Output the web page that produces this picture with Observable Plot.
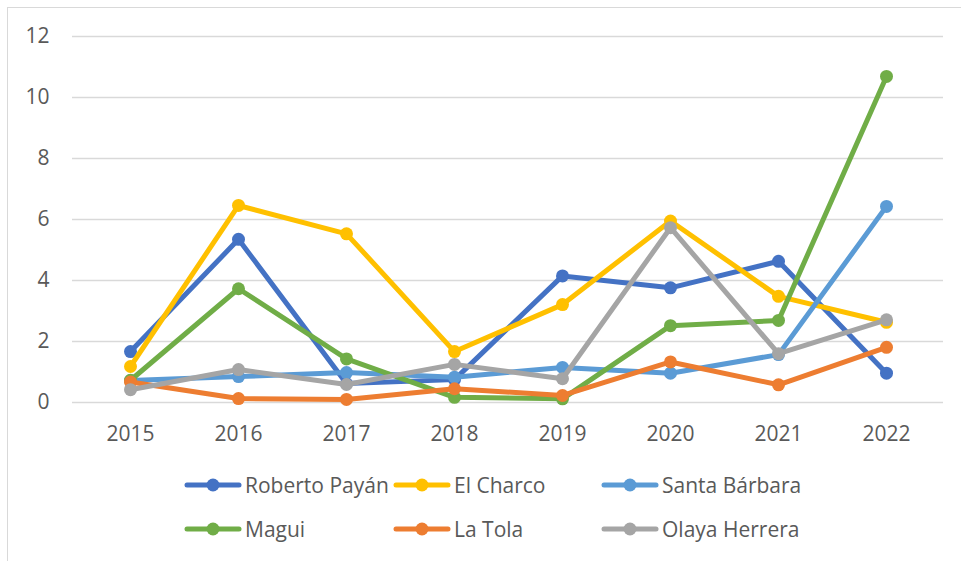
<!DOCTYPE html>
<html>
<head>
<meta charset="utf-8">
<script src="https://cdn.jsdelivr.net/npm/d3@7"></script>
<script src="https://cdn.jsdelivr.net/npm/@observablehq/plot@0.6"></script>
<style>
  html, body { margin: 0; padding: 0; background: #fff; }
  #wrap { position: relative; width: 961px; height: 561px; overflow: hidden; font-family: "Open Sans", sans-serif; }
  #frame { position: absolute; left: 7px; top: 7px; width: 1000px; height: 600px; border-left: 1.5px solid #d9d9d9; border-top: 1.5px solid #d9d9d9; }
  #chart { position: absolute; left: 0; top: 0; }
  #legend { position: absolute; left: 184px; top: 467px; display: grid; grid-template-columns: 209px 208px 208px; row-gap: 8px; }
  .item { display: flex; align-items: center; height: 36px; color: #595959; font-size: 21px; white-space: nowrap; }
  .item svg { margin-right: 3px; flex: none; }
</style>
</head>
<body>
<div id="wrap">
  <div id="frame"></div>
  <div id="chart"></div>
  <div id="legend"></div>
</div>
<script>
const years = [2015, 2016, 2017, 2018, 2019, 2020, 2021, 2022];
const seriesNames = ["Roberto Payán", "El Charco", "Santa Bárbara", "Magui", "La Tola", "Olaya Herrera"];
const seriesColors = ["#4472C4", "#FFC000", "#5B9BD5", "#70AD47", "#ED7D31", "#A5A5A5"];
const robertoPayan = [1.67, 5.35, 0.62, 0.75, 4.15, 3.76, 4.63, 0.96];
const elCharco     = [1.18, 6.46, 5.53, 1.67, 3.21, 5.95, 3.48, 2.63];
const santaBarbara = [0.72, 0.85, 0.98, 0.83, 1.15, 0.96, 1.57, 6.43];
const magui        = [0.73, 3.73, 1.43, 0.17, 0.12, 2.52, 2.69, 10.69];
const laTola       = [0.67, 0.13, 0.10, 0.45, 0.23, 1.33, 0.58, 1.81];
const olayaHerrera = [0.42, 1.08, 0.59, 1.25, 0.78, 5.73, 1.60, 2.71];
const yTicks = [0, 2, 4, 6, 8, 10, 12];

const seriesValues = [robertoPayan, elCharco, santaBarbara, magui, laTola, olayaHerrera];
const rows = seriesNames.flatMap((name, i) =>
  years.map((year, j) => ({ series: name, year: String(year), value: seriesValues[i][j] })));

const marks = [
  Plot.ruleY(yTicks, { stroke: "#d9d9d9", strokeWidth: 1.5 }),
  Plot.axisX({ tickSize: 0, tickPadding: 24, fontSize: 21, color: "#595959", label: null }),
  Plot.axisY(yTicks, { tickSize: 0, tickPadding: 23, fontSize: 21, color: "#595959", label: null })
];
seriesNames.forEach((name, i) => {
  const d = rows.filter(r => r.series === name);
  marks.push(Plot.line(d, { x: "year", y: "value", stroke: seriesColors[i], strokeWidth: 5, strokeLinejoin: "round", strokeLinecap: "round" }));
  marks.push(Plot.dot(d, { x: "year", y: "value", fill: seriesColors[i], r: 6.5, stroke: "none" }));
});

const chart = Plot.plot({
  width: 961,
  height: 460,
  marginTop: 36,
  marginBottom: 58,
  marginLeft: 72,
  marginRight: 18,
  style: { fontFamily: "Open Sans, sans-serif", background: "transparent", overflow: "visible" },
  x: { type: "point", domain: years.map(String), padding: 0.5 },
  y: { domain: [0, 12] },
  marks
});
document.getElementById("chart").appendChild(chart);

const legend = document.getElementById("legend");
seriesNames.forEach((name, i) => {
  const item = document.createElement("div");
  item.className = "item";
  item.innerHTML = `<svg width="58" height="16"><line x1="3" y1="8" x2="55" y2="8" stroke="${seriesColors[i]}" stroke-width="5" stroke-linecap="round"/><circle cx="29" cy="8" r="6.5" fill="${seriesColors[i]}"/></svg><span>${name}</span>`;
  legend.appendChild(item);
});
</script>
</body>
</html>
